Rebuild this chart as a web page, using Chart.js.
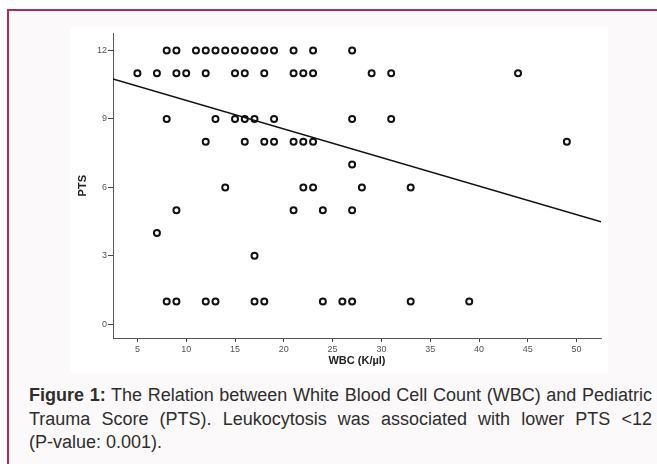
<!DOCTYPE html>
<html>
<head>
<meta charset="utf-8">
<script src="https://cdn.jsdelivr.net/npm/chart.js@4"></script>
<style>
  body { margin: 0; width: 657px; height: 464px; overflow: hidden; background: #fff; position: relative;
         font-family: "Liberation Sans", Arial, sans-serif; }
  .frame { position: absolute; left: 7px; top: 9px; width: 720px; height: 520px;
           border-top: 2px solid #b52a52; border-left: 2px solid #b52a52; background: #fbf9f9; }
  .panel { position: absolute; left: 70px; top: 27px; width: 538px; height: 346px; background: #fff; }
  .caption { position: absolute; left: 29px; top: 384px; width: 623px; font-size: 18px; line-height: 23.5px; color: #2e2e2e; }
  .caption div { text-align: justify; text-align-last: justify; white-space: nowrap; }
  .caption div.last { text-align-last: left; }
</style>
</head>
<body>
<div class="frame"></div>
<div class="panel"><canvas id="myChart"></canvas></div>
<div class="caption">
  <div><b>Figure 1:</b> The Relation between White Blood Cell Count (WBC) and Pediatric</div>
  <div>Trauma Score (PTS). Leukocytosis was associated with lower PTS &lt;12</div>
  <div class="last">(P-value: 0.001).</div>
</div>
<script>
const wbcValues = [
  8, 9, 11, 12, 13, 14, 15, 16, 17, 18, 19, 21, 23, 27,
  5, 7, 9, 10, 12, 15, 16, 18, 21, 22, 23, 29, 31, 44,
  8, 13, 15, 16, 17, 19, 27, 31,
  12, 16, 18, 19, 21, 22, 23, 49,
  27,
  14, 22, 23, 28, 33,
  9, 21, 24, 27,
  7,
  17,
  8, 9, 12, 13, 17, 18, 24, 26, 27, 33, 39
];
const ptsValues = [
  12, 12, 12, 12, 12, 12, 12, 12, 12, 12, 12, 12, 12, 12,
  11, 11, 11, 11, 11, 11, 11, 11, 11, 11, 11, 11, 11, 11,
  9, 9, 9, 9, 9, 9, 9, 9,
  8, 8, 8, 8, 8, 8, 8, 8,
  7,
  6, 6, 6, 6, 6,
  5, 5, 5, 5,
  4,
  3,
  1, 1, 1, 1, 1, 1, 1, 1, 1, 1, 1
];
// fit line end points
const fitWbc = [2.5, 52.5];
const fitPts = [10.75, 4.49];

const xTicks = [5, 10, 15, 20, 25, 30, 35, 40, 45, 50];
const yTicks = [0, 3, 6, 9, 12];

const renderChart = (canvasId) => {
    const canvas = document.getElementById(canvasId);
    if (!canvas) return;
    const ctx = canvas.getContext('2d');
    const points = wbcValues.map((x, i) => ({ x: x, y: ptsValues[i] }));
    const fit = fitWbc.map((x, i) => ({ x: x, y: fitPts[i] }));
    const tickFont = { family: '"Liberation Sans", Arial, sans-serif', size: 9 };
    const titleFont = { family: '"Liberation Sans", Arial, sans-serif', size: 11, weight: 'bold' };
    new Chart(ctx, {
        type: 'scatter',
        data: {
            datasets: [{
                label: 'PTS',
                data: points,
                pointStyle: 'circle',
                pointRadius: 3,
                pointBorderWidth: 2,
                borderColor: '#111',
                backgroundColor: 'rgba(255,255,255,0)'
            }, {
                label: 'Fit',
                data: fit,
                showLine: true,
                borderColor: '#111',
                borderWidth: 1.5,
                pointRadius: 0
            }]
        },
        options: {
            responsive: true,
            maintainAspectRatio: false,
            animation: false,
            layout: { padding: { top: 1, right: 7, left: 0, bottom: 0 } },
            plugins: {
                legend: { display: false },
                tooltip: { enabled: false }
            },
            scales: {
                x: {
                    type: 'linear',
                    min: 2.5,
                    max: 52.5,
                    afterBuildTicks: (s) => { s.ticks = xTicks.map(v => ({ value: v })); },
                    afterFit: (s) => { s.height = 35; },
                    grid: { drawOnChartArea: false, drawTicks: true, tickLength: 4, color: '#444' },
                    border: { display: true, color: '#555' },
                    ticks: { font: tickFont, color: '#555', padding: 2, maxRotation: 0, autoSkip: false },
                    title: { display: true, text: 'WBC (K/µl)', font: titleFont, color: '#222', padding: { top: 0, bottom: 5 } }
                },
                y: {
                    type: 'linear',
                    min: -0.6,
                    max: 12.75,
                    afterBuildTicks: (s) => { s.ticks = yTicks.map(v => ({ value: v })); },
                    afterFit: (s) => { s.width = 43; },
                    grid: { drawOnChartArea: false, drawTicks: true, tickLength: 5, color: '#444' },
                    border: { display: true, color: '#555' },
                    ticks: { font: tickFont, color: '#555', padding: 1, autoSkip: false },
                    title: { display: true, text: 'PTS', font: titleFont, color: '#222', padding: { top: 6, bottom: 0 } }
                }
            }
        }
    });
}

document.addEventListener('DOMContentLoaded', function() {
    renderChart('myChart');
});
</script>
</body>
</html>
